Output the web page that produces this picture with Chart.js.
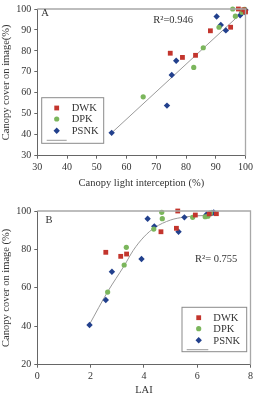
<!DOCTYPE html>
<html>
<head>
<meta charset="utf-8">
<script src="https://cdn.jsdelivr.net/npm/chart.js@4.4.0/dist/chart.umd.min.js"></script>
<style>
  html,body{margin:0;padding:0;background:#fff;}
  .box{position:absolute;left:0;width:256px;}
  #wa{top:0;height:197px;}
  #wb{top:197px;height:198px;}
</style>
</head>
<body>
<div class="box" id="wa"><canvas id="chartA"></canvas></div>
<div class="box" id="wb"><canvas id="chartB"></canvas></div>
<script>
Chart.defaults.font.family = "'Liberation Serif', serif";
Chart.defaults.color = '#333';

const seriesNames = ['DWK', 'DPK', 'PSNK'];
const seriesColors = ['#c3352d', '#7bb65c', '#22408d'];
const seriesShapes = ['rect', 'circle', 'rectRot'];
const seriesRadius = [3.4, 2.6, 3.2];

// panel A: canopy light interception (%) vs canopy cover on image (%)
const dwkLightX = [74.7, 78.8, 83.2, 88.2, 95.0, 97.6, 99.4, 100];
const dwkLightY = [78.9, 76.9, 77.9, 89.6, 91.3, 100, 99.6, 98.6];
const dpkLightX = [65.6, 82.6, 85.8, 91.1, 95.7, 96.6, 98.8, 99.6];
const dpkLightY = [58.1, 72.1, 81.5, 91.3, 100, 96.6, 98.4, 99.8];
const psnkLightX = [55.0, 73.6, 75.2, 76.7, 90.3, 91.7, 93.4, 98.2, 98.8, 99.3, 99.8, 100];
const psnkLightY = [40.9, 53.9, 68.5, 75.3, 96.4, 92.4, 89.8, 97.0, 98.2, 99.0, 98.6, 99.5];
const fitLightX = [55.0, 99.6];
const fitLightY = [40.9, 99.3];

// panel B: LAI vs canopy cover on image (%)
const dwkLaiX = [2.57, 3.13, 3.35, 4.64, 5.22, 5.27, 5.93, 6.45, 6.72];
const dwkLaiY = [78.5, 76.4, 77.6, 89.2, 91.0, 100, 97.9, 98.5, 98.6];
const dpkLaiX = [2.64, 3.26, 3.34, 4.37, 4.67, 4.69, 5.83, 6.30, 6.40, 6.50];
const dpkLaiY = [57.8, 71.9, 81.1, 90.6, 99.3, 96.0, 96.7, 97.0, 97.3, 99.0];
const psnkLaiX = [1.96, 2.57, 2.80, 3.91, 4.14, 4.39, 5.30, 5.52, 6.35, 6.45, 6.55, 6.62];
const psnkLaiY = [40.7, 53.7, 68.4, 75.0, 96.0, 92.0, 89.2, 96.7, 98.2, 98.5, 99.0, 99.3];
const fitLaiX = [1.96, 2.64, 3.26, 3.6, 4.0, 4.4, 5.0, 5.5, 6.0, 6.7];
const fitLaiY = [41, 58, 71.5, 79.5, 86.5, 91.3, 95.3, 96.8, 97.5, 97.8];

const zip = (xs, ys) => xs.map((x, i) => ({x, y: ys[i]}));

function pointSet(i, xs, ys) {
  return {
    label: seriesNames[i], data: zip(xs, ys),
    pointStyle: seriesShapes[i], pointRadius: seriesRadius[i], pointHoverRadius: seriesRadius[i],
    backgroundColor: seriesColors[i], borderColor: seriesColors[i], borderWidth: 0,
    showLine: false, clip: false
  };
}
function fitSet(xs, ys) {
  return {
    label: 'fit', data: zip(xs, ys), showLine: true, pointRadius: 0,
    borderColor: '#9a9a9a', borderWidth: 1, tension: 0.4, cubicInterpolationMode: 'monotone', clip: false
  };
}

// frame, legend box, panel letter and R² text
const decor = {
  id: 'decor',
  afterDraw(chart, args, o) {
    const c = chart.ctx, a = chart.chartArea;
    c.save();
    c.strokeStyle = '#a8a8a8'; c.lineWidth = 1.3;
    c.beginPath();
    c.moveTo(a.left, a.top); c.lineTo(a.right, a.top); c.lineTo(a.right, a.bottom);
    c.stroke();
    c.fillStyle = '#333';
    c.font = "10.5px 'Liberation Serif'";
    c.textBaseline = 'middle';
    c.fillText(o.letter, o.letterX, o.letterY);
    c.fillText(o.r2, o.r2X, o.r2Y);
    // legend
    const L = o.legend;
    c.fillStyle = '#fff';
    c.fillRect(L.x, L.y, L.w, L.h);
    c.strokeStyle = '#8a8a8a'; c.lineWidth = 1;
    c.strokeRect(L.x, L.y, L.w, L.h);
    seriesNames.forEach((name, i) => {
      const y = L.rows[i], x = L.markX, r = seriesRadius[i];
      c.fillStyle = seriesColors[i];
      c.beginPath();
      if (seriesShapes[i] === 'circle') c.arc(x, y, r, 0, Math.PI * 2);
      else if (seriesShapes[i] === 'rect') { const s = r * Math.SQRT1_2; c.rect(x - s, y - s, 2 * s, 2 * s); }
      else { c.moveTo(x, y - r); c.lineTo(x + r, y); c.lineTo(x, y + r); c.lineTo(x - r, y); c.closePath(); }
      c.fill();
      c.fillStyle = '#333';
      c.fillText(name, L.textX, y + 0.5);
    });
    c.strokeStyle = '#9a9a9a';
    c.beginPath(); c.moveTo(L.lineX0, L.lineY); c.lineTo(L.lineX1, L.lineY); c.stroke();
    c.restore();
  }
};

function axis(min, max, step, title, fitSize, titlePad, horizontal) {
  return {
    type: 'linear', min, max,
    ticks: {stepSize: step, padding: 3, font: {size: 10}, color: '#333', maxRotation: 0},
    grid: {display: true, drawOnChartArea: false, drawTicks: true, tickLength: 3, color: '#666'},
    border: {display: true, color: '#666', width: 1},
    title: {display: true, text: title, font: {size: 10.5}, color: '#333', padding: titlePad},
    afterFit: s => { if (horizontal) s.height = fitSize; else s.width = fitSize; }
  };
}

function makeChart(id, sets, xs, ys, pad, decorOpts) {
  return new Chart(document.getElementById(id), {
    type: 'scatter',
    data: {datasets: sets},
    options: {
      responsive: true, maintainAspectRatio: false, animation: false,
      layout: {padding: pad, autoPadding: false},
      plugins: {legend: {display: false}, tooltip: {enabled: false}, decor: decorOpts},
      scales: {x: xs, y: ys}
    },
    plugins: [decor]
  });
}

makeChart('chartA',
  [pointSet(0, dwkLightX, dwkLightY), pointSet(1, dpkLightX, dpkLightY), pointSet(2, psnkLightX, psnkLightY),
   fitSet(fitLightX, fitLightY)],
  axis(30, 100, 10, 'Canopy light interception (%)', 41.3, {top: 0, bottom: 7}, true),
  axis(30, 100, 10, 'Canopy cover on image(%)', 37.3, {top: 0, bottom: 0}, false),
  {left: 0, right: 9.3, top: 5.3, bottom: 0},
  {letter: 'A', letterX: 41.3, letterY: 13.7, r2: 'R²=0.946', r2X: 153.3, r2Y: 20,
   legend: {x: 41.7, y: 97.7, w: 62, h: 45.6, rows: [108, 119, 130.7], markX: 56.7, textX: 71.7,
            lineX0: 46.7, lineX1: 66.7, lineY: 140.3}});

makeChart('chartB',
  [pointSet(0, dwkLaiX, dwkLaiY), pointSet(1, dpkLaiX, dpkLaiY), pointSet(2, psnkLaiX, psnkLaiY),
   fitSet(fitLaiX, fitLaiY)],
  axis(0, 8, 2, 'LAI', 30.3, {top: 0, bottom: -2}, true),
  axis(20, 100, 20, 'Canopy cover on image (%)', 37.3, {top: 0, bottom: 0}, false),
  {left: 0, right: 3.7, top: 14, bottom: 0},
  {letter: 'B', letterX: 45.5, letterY: 23, r2: 'R²= 0.755', r2X: 195, r2Y: 62,
   legend: {x: 182, y: 110.3, w: 64.7, h: 44.4, rows: [120.7, 131.7, 143.3], markX: 198.7, textX: 213.3,
            lineX0: 186.7, lineX1: 208.3, lineY: 152.7}});
</script>
</body>
</html>
